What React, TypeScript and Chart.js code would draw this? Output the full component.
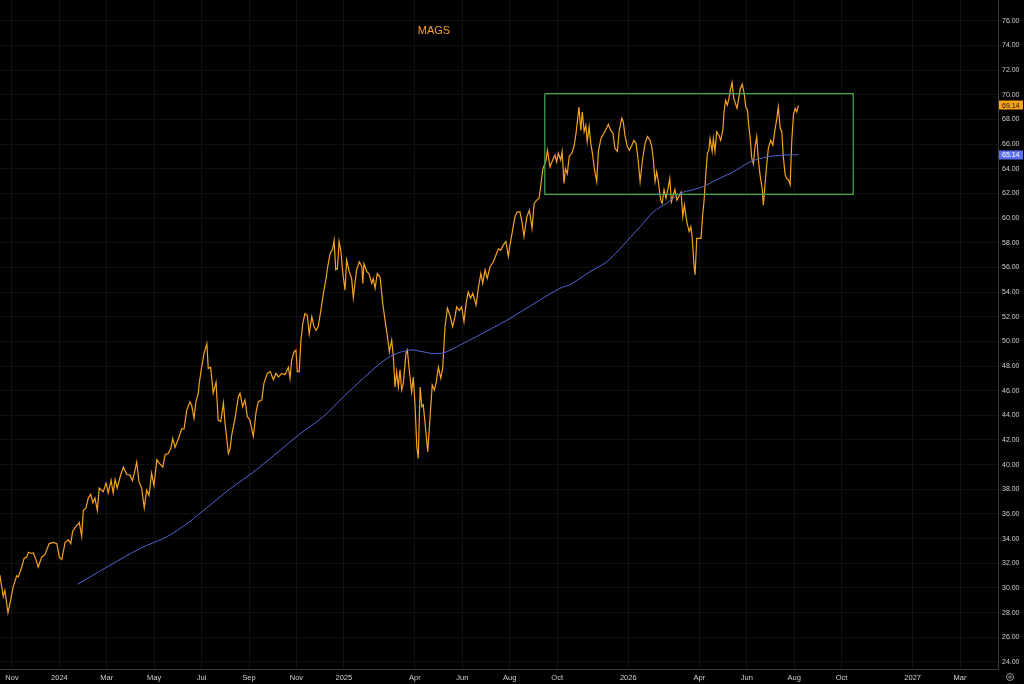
import React, { useEffect, useRef } from "react";
import { Chart, registerables } from "chart.js";

Chart.register(...registerables);

// x values are months since 1 Nov 2023 (fractional)
const TICK_MONTHS = [0, 2, 4, 6, 8, 10, 12, 14, 17, 19, 21, 23, 26, 29, 31, 33, 35, 38, 40];
const TICK_LABELS = ["Nov", "2024", "Mar", "May", "Jul", "Sep", "Nov", "2025", "Apr", "Jun", "Aug", "Oct", "2026", "Apr", "Jun", "Aug", "Oct", "2027", "Mar"];

const PRICE_MONTHS = [
  -0.51, -0.37, -0.3, -0.17, -0.08, 0.05, 0.2, 0.27, 0.41, 0.51, 0.62, 0.69, 0.83, 0.9, 1.01, 1.11, 1.25, 1.39, 1.57, 1.74,
  1.89, 2.0, 2.1, 2.24, 2.38, 2.48, 2.56, 2.7, 2.84, 2.94, 3.01, 3.12, 3.22, 3.32, 3.41, 3.5, 3.6, 3.68, 3.85, 3.97,
  4.06, 4.18, 4.27, 4.35, 4.44, 4.56, 4.7, 4.84, 4.98, 5.08, 5.16, 5.26, 5.36, 5.47, 5.58, 5.68, 5.78, 5.89, 5.99, 6.11,
  6.22, 6.36, 6.46, 6.59, 6.7, 6.78, 6.88, 7.02, 7.16, 7.26, 7.37, 7.51, 7.58, 7.68, 7.76, 7.86, 7.9, 8.0, 8.1, 8.22,
  8.28, 8.38, 8.49, 8.61, 8.7, 8.81, 8.92, 8.99, 9.13, 9.2, 9.27, 9.41, 9.55, 9.62, 9.73, 9.83, 9.93, 10.04, 10.18, 10.3,
  10.39, 10.54, 10.63, 10.77, 10.89, 11.03, 11.14, 11.24, 11.38, 11.52, 11.66, 11.73, 11.8, 11.9, 11.98, 12.04, 12.12, 12.19, 12.27, 12.36,
  12.46, 12.54, 12.65, 12.74, 12.83, 12.92, 13.03, 13.14, 13.25, 13.32, 13.42, 13.53, 13.59, 13.66, 13.73, 13.8, 13.87, 13.95, 14.05, 14.12,
  14.23, 14.33, 14.4, 14.47, 14.54, 14.65, 14.76, 14.8, 14.85, 14.97, 15.06, 15.18, 15.24, 15.32, 15.41, 15.53, 15.64, 15.74, 15.84, 15.92,
  16.02, 16.09, 16.16, 16.23, 16.3, 16.37, 16.44, 16.51, 16.62, 16.68, 16.76, 16.86, 16.93, 17.0, 17.08, 17.14, 17.22, 17.29, 17.35, 17.43,
  17.54, 17.64, 17.73, 17.82, 17.89, 17.99, 18.09, 18.17, 18.27, 18.37, 18.48, 18.59, 18.69, 18.76, 18.87, 18.97, 19.07, 19.16, 19.25, 19.35,
  19.44, 19.58, 19.68, 19.78, 19.86, 19.96, 20.05, 20.17, 20.31, 20.42, 20.52, 20.62, 20.73, 20.84, 20.94, 21.01, 21.11, 21.22, 21.32, 21.43,
  21.53, 21.6, 21.72, 21.83, 21.94, 22.03, 22.14, 22.24, 22.32, 22.39, 22.53, 22.59, 22.7, 22.81, 22.91, 22.98, 23.05, 23.15, 23.21, 23.29,
  23.35, 23.43, 23.51, 23.62, 23.71, 23.8, 23.87, 23.92, 24.0, 24.06, 24.14, 24.21, 24.27, 24.35, 24.42, 24.5, 24.57, 24.67, 24.74, 24.85,
  24.98, 25.09, 25.16, 25.26, 25.35, 25.44, 25.54, 25.62, 25.73, 25.79, 25.86, 25.96, 26.05, 26.15, 26.24, 26.33, 26.41, 26.5, 26.61, 26.71,
  26.81, 26.92, 26.99, 27.06, 27.13, 27.2, 27.27, 27.37, 27.43, 27.51, 27.59, 27.68, 27.75, 27.82, 27.9, 27.97, 28.05, 28.16, 28.23, 28.3,
  28.37, 28.47, 28.57, 28.64, 28.69, 28.78, 28.82, 28.89, 28.99, 29.07, 29.14, 29.2, 29.27, 29.34, 29.4, 29.45, 29.54, 29.59, 29.66, 29.73,
  29.83, 29.9, 29.99, 30.04, 30.11, 30.18, 30.25, 30.32, 30.38, 30.45, 30.52, 30.59, 30.66, 30.73, 30.81, 30.89, 30.96, 31.03, 31.08, 31.14,
  31.21, 31.28, 31.35, 31.42, 31.49, 31.56, 31.65, 31.7, 31.77, 31.84, 31.91, 32.01, 32.1, 32.18, 32.27, 32.33, 32.41, 32.48, 32.54, 32.62,
  32.69, 32.76, 32.83, 32.9, 32.97, 33.04, 33.11, 33.18,
];

const PRICE_VALUES = [
  31.04, 29.3, 29.8, 28.0, 28.8, 30.1, 31.0, 30.9, 31.7, 32.4, 32.5, 32.9, 32.8, 32.85, 32.3, 31.7, 32.5, 32.7, 33.6, 33.7,
  33.6, 32.5, 32.3, 33.7, 33.9, 33.6, 34.6, 35.0, 35.3, 34.2, 36.3, 36.5, 37.3, 37.6, 36.9, 37.3, 36.3, 38.1, 37.8, 38.5,
  37.7, 38.75, 37.7, 38.8, 38.1, 39.0, 39.8, 39.2, 39.15, 38.7, 39.3, 40.2, 38.6, 38.1, 36.5, 37.95, 37.5, 39.3, 38.3, 40.4,
  40.1, 39.8, 40.8, 40.9, 41.3, 42.1, 41.4, 42.1, 42.9, 42.9, 44.4, 45.1, 44.8, 43.75, 45.1, 45.8, 46.6, 47.9, 49.0, 49.8,
  47.8, 47.9, 45.8, 46.7, 43.6, 43.5, 45.0, 43.35, 40.9, 41.3, 42.4, 43.75, 45.5, 45.8, 44.7, 45.25, 43.9, 43.6, 42.3, 44.3,
  45.1, 45.25, 46.6, 47.4, 47.55, 46.9, 47.4, 47.1, 47.4, 47.3, 47.9, 47.0, 48.5, 49.15, 49.3, 47.55, 47.55, 50.1, 51.45, 52.25,
  52.1, 50.6, 52.0, 51.2, 50.9, 51.2, 52.5, 53.9, 55.1, 56.05, 57.1, 57.5, 58.2, 55.8, 55.9, 58.1, 57.4, 55.65, 54.15, 56.6,
  55.65, 55.1, 53.55, 54.7, 55.8, 56.45, 56.05, 54.7, 56.3, 55.65, 55.5, 54.7, 55.1, 54.3, 55.5, 55.2, 53.1, 51.7, 50.4, 49.15,
  50.1, 48.75, 46.3, 47.55, 46.3, 47.7, 46.05, 46.6, 49.0, 49.3, 47.7, 45.9, 47.1, 45.0, 41.45, 40.5, 46.3, 44.7, 44.85, 43.35,
  41.05, 43.9, 46.45, 46.05, 46.6, 47.9, 47.0, 47.8, 51.2, 52.7, 52.1, 51.2, 52.0, 52.8, 52.5, 52.8, 51.6, 53.1, 54.0, 53.5,
  53.9, 52.95, 54.4, 55.5, 54.7, 55.8, 55.1, 56.05, 56.45, 57.0, 57.5, 57.4, 57.8, 58.1, 56.9, 57.8, 58.9, 60.1, 60.5, 60.5,
  59.55, 58.5, 60.1, 60.65, 59.15, 61.2, 61.45, 61.6, 62.8, 63.9, 64.7, 65.5, 64.15, 64.7, 65.1, 64.55, 65.25, 64.7, 65.4, 62.8,
  64.0, 63.6, 65.0, 65.25, 65.8, 66.9, 68.1, 69.0, 67.1, 68.6, 67.0, 67.5, 66.2, 67.4, 66.05, 65.1, 64.0, 62.95, 65.4, 66.45,
  66.9, 67.3, 67.6, 67.1, 66.9, 65.65, 65.4, 67.1, 68.1, 67.8, 66.7, 65.8, 65.5, 65.9, 66.3, 66.05, 64.85, 62.95, 64.85, 66.05,
  66.6, 66.3, 65.8, 64.7, 62.95, 63.75, 62.95, 61.45, 61.2, 62.3, 61.6, 62.4, 63.2, 61.3, 61.85, 62.3, 61.45, 61.85, 62.1, 60.1,
  61.05, 59.7, 58.9, 59.3, 58.6, 56.05, 55.4, 58.35, 58.35, 58.35, 60.25, 61.45, 63.5, 65.25, 65.5, 66.45, 65.4, 66.45, 65.4, 67.0,
  66.7, 66.3, 67.1, 68.6, 69.55, 69.15, 69.7, 70.5, 71.0, 69.7, 69.3, 68.9, 69.7, 70.5, 70.85, 70.1, 69.0, 68.75, 67.55, 66.6,
  64.85, 64.4, 65.8, 66.6, 64.7, 63.5, 62.4, 61.05, 62.7, 64.3, 65.65, 66.3, 65.9, 67.0, 68.1, 69.0, 67.3, 67.0, 65.0, 63.5,
  63.2, 63.1, 62.7, 66.3, 68.35, 68.9, 68.6, 69.14,
];

const MA_MONTHS = [
  2.76, 4.14, 5.4, 6.53, 7.37, 7.93, 9.11, 10.32, 12.15, 13.14, 13.98, 14.82, 15.53, 16.09, 16.79, 17.35, 17.78, 18.27, 18.9, 19.61,
  20.87, 22.14, 23.12, 23.54, 24.39, 25.09, 25.79, 26.5, 27.06, 27.62, 28.19, 28.75, 29.17, 29.73, 30.43, 31.14, 31.84, 32.54, 33.18,
];
const MA_VALUES = [
  30.3, 31.85, 33.2, 34.15, 35.2, 36.05, 37.9, 39.6, 42.5, 43.9, 45.5, 47.0, 48.2, 48.9, 49.3, 49.15, 49.0, 49.1, 49.7, 50.4,
  51.7, 53.2, 54.3, 54.6, 55.65, 56.45, 57.8, 59.3, 60.5, 61.2, 62.0, 62.3, 62.55, 63.1, 63.75, 64.55, 64.95, 65.1, 65.14,
];

// range rectangle (months, price)
const BOX_MONTHS = [22.48, 35.49];
const BOX_VALUES = [61.92, 70.08];

const TITLE = "MAGS";
const ORANGE = "#f5a21f";
const BLUE = "#5264d6";
const GREEN = "#46a84a";
const FONT = "'Liberation Sans', Arial, sans-serif";

export default function App() {
  const ref = useRef<HTMLCanvasElement | null>(null);

  useEffect(() => {
    document.body.style.margin = "0";
    document.body.style.background = "#000";
    const canvas = ref.current;
    if (!canvas) return;

    const priceData = PRICE_MONTHS.map((x, i) => ({ x, y: PRICE_VALUES[i] }));
    const maData = MA_MONTHS.map((x, i) => ({ x, y: MA_VALUES[i] }));
    const boxData = [
      { x: BOX_MONTHS[0], y: BOX_VALUES[1] },
      { x: BOX_MONTHS[1], y: BOX_VALUES[1] },
      { x: BOX_MONTHS[1], y: BOX_VALUES[0] },
      { x: BOX_MONTHS[0], y: BOX_VALUES[0] },
      { x: BOX_MONTHS[0], y: BOX_VALUES[1] },
    ];

    const overlay = {
      id: "overlay",
      beforeDraw(chart: any) {
        const c = chart.ctx;
        c.save();
        c.fillStyle = "#000";
        c.fillRect(0, 0, chart.width, chart.height);
        c.restore();
      },
      afterDraw(chart: any) {
        const c = chart.ctx;
        const y = chart.scales.y;
        const area = chart.chartArea;
        c.save();
        // title
        c.font = `11px ${FONT}`;
        c.fillStyle = ORANGE;
        c.textAlign = "center";
        c.textBaseline = "middle";
        c.fillText(TITLE, 434, 31);
        // last value labels
        const tags = [
          { v: PRICE_VALUES[PRICE_VALUES.length - 1], bg: ORANGE, fg: "#1a1206" },
          { v: MA_VALUES[MA_VALUES.length - 1], bg: "#5b6ef0", fg: "#ffffff" },
        ];
        c.font = `7px ${FONT}`;
        for (const t of tags) {
          const py = y.getPixelForValue(t.v);
          c.fillStyle = t.bg;
          c.fillRect(area.right + 1, Math.round(py) - 4.5, chart.width - area.right - 2, 9);
          c.fillStyle = t.fg;
          c.textAlign = "left";
          c.fillText(t.v.toFixed(2), area.right + 4, py + 0.5);
        }
        // settings icon at the corner
        c.strokeStyle = "#9a9a9a";
        c.lineWidth = 1;
        c.beginPath();
        c.arc(area.right + 12, area.bottom + 8, 3.5, 0, Math.PI * 2);
        c.stroke();
        c.beginPath();
        c.arc(area.right + 12, area.bottom + 8, 1.2, 0, Math.PI * 2);
        c.stroke();
        c.restore();
      },
    };

    const chart = new Chart(canvas, {
      type: "line",
      data: {
        datasets: [
          {
            label: "Box",
            data: boxData,
            borderColor: GREEN,
            borderWidth: 1.2,
            pointRadius: 0,
            tension: 0,
            fill: false,
          },
          {
            label: "SMA",
            data: maData,
            borderColor: BLUE,
            borderWidth: 1,
            pointRadius: 0,
            tension: 0.3,
            fill: false,
          },
          {
            label: TITLE,
            data: priceData,
            borderColor: ORANGE,
            borderWidth: 1.2,
            pointRadius: 0,
            tension: 0,
            fill: false,
          },
        ],
      },
      options: {
        animation: false,
        responsive: true,
        maintainAspectRatio: false,
        layout: { padding: 0 },
        plugins: {
          legend: { display: false },
          tooltip: { enabled: false },
          title: { display: false },
        },
        scales: {
          x: {
            type: "linear",
            position: "bottom",
            min: -0.506,
            max: 41.6,
            grid: { color: "#101010", drawTicks: false, lineWidth: 1 },
            border: { display: true, color: "#3c3c3c" },
            ticks: {
              autoSkip: false,
              maxRotation: 0,
              padding: 4,
              color: "#cfcfcf",
              font: { size: 7.5, family: FONT },
              callback: (_v: any, i: number) => TICK_LABELS[i],
            },
            afterBuildTicks: (scale: any) => {
              scale.ticks = TICK_MONTHS.map((v) => ({ value: v }));
            },
            afterFit: (scale: any) => {
              scale.height = 15;
              scale.paddingLeft = 0;
              scale.paddingRight = 0;
            },
          },
          y: {
            type: "linear",
            position: "right",
            min: 23.43,
            max: 77.68,
            grid: { color: "#101010", drawTicks: false, lineWidth: 1 },
            border: { display: true, color: "#3c3c3c" },
            ticks: {
              stepSize: 2,
              includeBounds: false,
              padding: 4,
              color: "#cfcfcf",
              font: { size: 7, family: FONT },
              callback: (v: any) => Number(v).toFixed(2),
            },
            afterFit: (scale: any) => {
              scale.width = 26;
              scale.paddingTop = 0;
              scale.paddingBottom = 0;
            },
          },
        },
      },
      plugins: [overlay],
    } as any);

    return () => chart.destroy();
  }, []);

  return (
    <div style={{ position: "fixed", left: 0, top: 0, width: 1024, height: 684, background: "#000" }}>
      <canvas ref={ref} />
    </div>
  );
}
